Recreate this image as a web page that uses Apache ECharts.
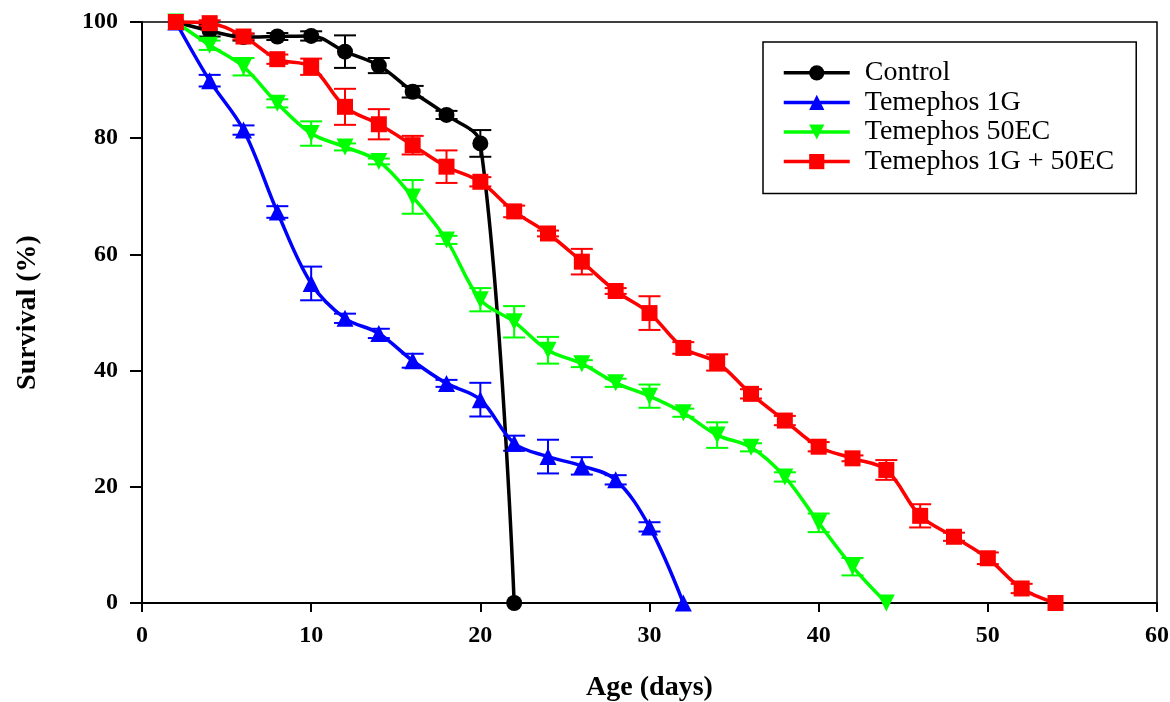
<!DOCTYPE html>
<html>
<head>
<meta charset="utf-8">
<script src="https://cdn.jsdelivr.net/npm/echarts@6/dist/echarts.min.js"></script>
<style>html,body{margin:0;padding:0;background:#fff;}#c{width:1170px;height:702px;}</style>
</head>
<body>
<div id="c"></div>
<script>
const ages = [2,4,6,8,10,12,14,16,18,20,22,24,26,28,30,32,34,36,38,40,42,44,46,48,50,52,54];
const seriesNames = ['Control','Temephos 1G','Temephos 50EC','Temephos 1G + 50EC'];
const xTicks = [0,10,20,30,40,50,60];
const yTicks = [0,20,40,60,80,100];

const control    = [100, 98.5, 97.4, 97.5, 97.6, 94.9, 92.5, 88.0, 84.0, 79.1, 0];
const controlErr = [0, 1.0, 0.6, 0.6, 0.8, 2.8, 1.3, 1.0, 0.7, 2.3, 0];

const t1g    = [100, 89.9, 81.4, 67.3, 55.0, 49.0, 46.4, 41.7, 37.8, 35.0, 27.5, 25.2, 23.6, 21.2, 13.1, 0];
const t1gErr = [0, 1.0, 0.8, 1.0, 2.9, 0.8, 0.8, 1.2, 0.6, 2.9, 1.3, 2.9, 1.5, 0.8, 0.8, 0];

const t50ec    = [100, 96.0, 92.3, 86.0, 80.8, 78.5, 76.0, 69.9, 62.5, 52.2, 48.4, 43.5, 41.2, 37.9, 35.6, 32.75, 28.9, 26.8, 21.7, 13.8, 6.25, 0];
const t50ecErr = [0, 0.8, 1.5, 0.7, 2.1, 0.6, 0.5, 2.9, 0.7, 2.0, 2.7, 2.3, 0.6, 0.7, 2.0, 0.7, 2.2, 0.7, 0.8, 1.6, 1.5, 0];

const comb    = [100, 99.8, 97.5, 93.6, 92.3, 85.4, 82.4, 78.8, 75.1, 72.5, 67.4, 63.6, 58.75, 53.7, 49.9, 43.9, 41.4, 36.0, 31.4, 26.9, 24.9, 22.9, 15.0, 11.4, 7.7, 2.5, 0];
const combErr = [0, 0.5, 0.5, 0.8, 1.4, 3.1, 2.6, 1.6, 2.8, 0.8, 1.0, 0.5, 2.2, 0.5, 2.9, 1.0, 1.4, 0.8, 0.8, 0.8, 0.5, 1.7, 2.0, 0.7, 1.0, 0.8, 0];

const colors = ['#000000', '#0000ff', '#00ff00', '#ff0000'];
const symbols = ['circle', 'triangle', 'path://M0,0 L10,0 L5,9 Z', 'rect'];
const symbolSizes = [16, 17, 17, 16];
const values = [control, t1g, t50ec, comb];
const errs = [controlErr, t1gErr, t50ecErr, combErr];

const FONT = '"Liberation Serif", "Times New Roman", serif';

function pts(v) { return v.map((y, i) => [ages[i], y]); }
function errData(v, e) { return v.map((y, i) => [ages[i], y - e[i], y + e[i]]).filter((d, i) => e[i] > 0); }

const series = [];
values.forEach((v, k) => {
  series.push({
    name: seriesNames[k] + ' err',
    type: 'custom',
    z: 3,
    silent: true,
    data: errData(v, errs[k]),
    renderItem: function (params, api) {
      const x = api.value(0);
      const lo = api.coord([x, api.value(1)]);
      const hi = api.coord([x, api.value(2)]);
      const hw = 11;
      const st = { stroke: colors[k], lineWidth: 2 };
      return {
        type: 'group',
        children: [
          { type: 'line', shape: { x1: lo[0], y1: lo[1], x2: hi[0], y2: hi[1] }, style: st },
          { type: 'line', shape: { x1: lo[0] - hw, y1: lo[1], x2: lo[0] + hw, y2: lo[1] }, style: st },
          { type: 'line', shape: { x1: hi[0] - hw, y1: hi[1], x2: hi[0] + hw, y2: hi[1] }, style: st }
        ]
      };
    }
  });
});
values.forEach((v, k) => {
  series.push({
    name: seriesNames[k],
    type: 'line',
    z: 4,
    data: pts(v),
    smooth: 0.35,
    symbol: symbols[k],
    symbolSize: symbolSizes[k],
    showAllSymbol: true,
    lineStyle: { color: colors[k], width: 3.5 },
    itemStyle: { color: colors[k] },
    clip: false
  });
});

const chart = echarts.init(document.getElementById('c'), null, { renderer: 'canvas' });
chart.setOption({
  animation: false,
  backgroundColor: '#ffffff',
  grid: { left: 142, right: 13, top: 22, bottom: 99, show: true, borderColor: '#000', borderWidth: 1.5, backgroundColor: 'transparent', containLabel: false, outerBoundsMode: 'none' },
  legend: {
    data: seriesNames,
    left: 763, top: 42,
    orient: 'vertical',
    itemWidth: 66, itemHeight: 19, itemGap: 0,
    padding: [16, 22, 17, 19],
    borderColor: '#000', borderWidth: 1.5,
    backgroundColor: '#fff',
    lineStyle: { width: 3.5 },
    textStyle: { fontFamily: FONT, fontSize: 28, color: '#000', lineHeight: 29.6, padding: [0, 0, 0, 10] }
  },
  xAxis: {
    type: 'value', min: 0, max: 60, interval: 10,
    name: 'Age (days)', nameLocation: 'middle', nameGap: 71,
    nameTextStyle: { fontFamily: FONT, fontSize: 28, fontWeight: 'bold', color: '#000' },
    axisLine: { show: true, onZero: false, lineStyle: { color: '#000', width: 2 } },
    axisTick: { show: true, inside: false, length: 9, lineStyle: { color: '#000', width: 2 }, customValues: xTicks },
    axisLabel: { fontFamily: FONT, fontSize: 24, fontWeight: 'bold', color: '#000', margin: 21, customValues: xTicks },
    splitLine: { show: false }
  },
  yAxis: {
    type: 'value', min: 0, max: 100, interval: 20,
    name: 'Survival (%)', nameLocation: 'middle', nameGap: 100, nameRotate: 90,
    nameTextStyle: { fontFamily: FONT, fontSize: 28, fontWeight: 'bold', color: '#000' },
    axisLine: { show: true, onZero: false, lineStyle: { color: '#000', width: 2 } },
    axisTick: { show: true, inside: false, length: 12, lineStyle: { color: '#000', width: 2 }, customValues: yTicks },
    axisLabel: { fontFamily: FONT, fontSize: 24, fontWeight: 'bold', color: '#000', margin: 24, customValues: yTicks },
    splitLine: { show: false }
  },
  series: series
});
</script>
</body>
</html>
